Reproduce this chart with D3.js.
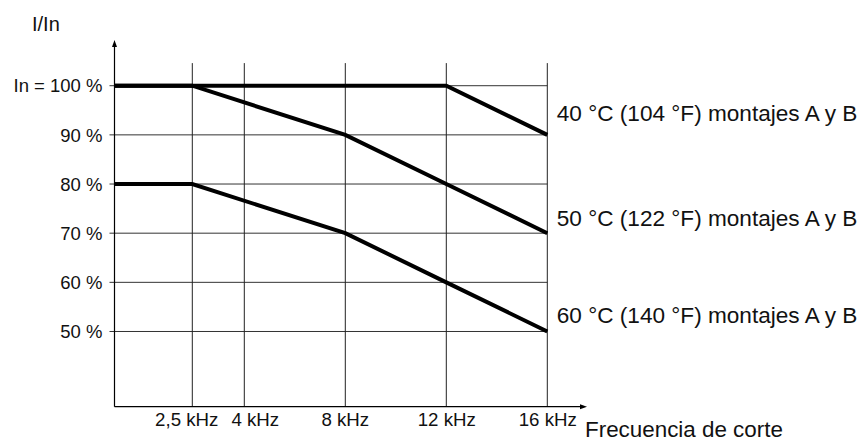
<!DOCTYPE html>
<html>
<head>
<meta charset="utf-8">
<script src="https://cdn.jsdelivr.net/npm/d3@7"></script>
<style>
  html, body { margin: 0; padding: 0; background: #fff; }
  svg { display: block; font-family: "Liberation Sans", Arial, sans-serif; }
</style>
</head>
<body>
<div id="chart"></div>
<script>
// Switching frequency ticks (kHz) and their labels
const freqTicks = [2.5, 4, 8, 12, 16];
const freqLabels = ['2,5 kHz', '4 kHz', '8 kHz', '12 kHz', '16 kHz'];

// Current ratio ticks (%)
const pctTicks = [100, 90, 80, 70, 60, 50];
const pctLabels = ['In = 100 %', '90 %', '80 %', '70 %', '60 %', '50 %'];

// Derating curves: breakpoints (kHz) and I/In (%)
const curve40Freq = [0, 12, 16];
const curve40Val = [100, 100, 90];
const curve50Freq = [0, 2.5, 8, 12, 16];
const curve50Val = [100, 100, 90, 80, 70];
const curve60Freq = [0, 2.5, 8, 12, 16];
const curve60Val = [80, 80, 70, 60, 50];

const curveNames = [
  '40 °C (104 °F) montajes A y B',
  '50 °C (122 °F) montajes A y B',
  '60 °C (140 °F) montajes A y B'
];
// level (%) where each name sits, next to the 16 kHz end
const curveLabelLevel = [92.9, 71.5, 51.8];

const width = 861, height = 442;

const svg = d3.select('#chart').append('svg')
  .attr('width', width)
  .attr('height', height);

// the frequency axis is not to scale in the original, so piecewise
const x = d3.scaleLinear()
  .domain([0, 2.5, 4, 16])
  .range([114.5, 192.3, 244.3, 547.3]);

const y = d3.scaleLinear()
  .domain([34.7, 109.3])
  .range([406.7, 40]);

const gridTop = 104.6;
const xEnd = 587;

// horizontal grid
svg.append('g')
  .selectAll('line')
  .data(pctTicks)
  .join('line')
  .attr('x1', x(0) - 5)
  .attr('x2', x(16))
  .attr('y1', d => y(d))
  .attr('y2', d => y(d))
  .attr('stroke', '#333')
  .attr('stroke-width', 1);

// vertical grid
svg.append('g')
  .selectAll('line')
  .data(freqTicks)
  .join('line')
  .attr('x1', d => x(d))
  .attr('x2', d => x(d))
  .attr('y1', y(y.domain()[0]))
  .attr('y2', y(gridTop))
  .attr('stroke', '#222')
  .attr('stroke-width', 1);

// axes with arrow heads
const x0 = x(0), y0 = y(y.domain()[0]), yTop = y(y.domain()[1]);
svg.append('line')
  .attr('x1', x0).attr('x2', x0)
  .attr('y1', y0).attr('y2', yTop + 4)
  .attr('stroke', '#000').attr('stroke-width', 1.2);
svg.append('path')
  .attr('d', `M${x0},${yTop} L${x0 - 2.5},${yTop + 7} L${x0 + 2.5},${yTop + 7} Z`)
  .attr('fill', '#000');
svg.append('line')
  .attr('x1', x0).attr('x2', xEnd - 4)
  .attr('y1', y0).attr('y2', y0)
  .attr('stroke', '#000').attr('stroke-width', 1.2);
svg.append('path')
  .attr('d', `M${xEnd},${y0} L${xEnd - 7},${y0 - 2.5} L${xEnd - 7},${y0 + 2.5} Z`)
  .attr('fill', '#000');

// y tick labels
svg.append('g')
  .selectAll('text')
  .data(pctTicks)
  .join('text')
  .attr('x', x0 - 12)
  .attr('y', d => y(d))
  .attr('dy', '0.36em')
  .attr('text-anchor', 'end')
  .attr('font-size', 18.5)
  .attr('fill', '#111')
  .text((d, i) => pctLabels[i]);

// x tick labels (first two nudged apart like the original)
const labelNudge = [-5.5, 11, 0, 0.5, 0.5];
svg.append('g')
  .selectAll('text')
  .data(freqTicks)
  .join('text')
  .attr('x', (d, i) => x(d) + labelNudge[i])
  .attr('y', 426)
  .attr('text-anchor', 'middle')
  .attr('font-size', 18.7)
  .attr('fill', '#111')
  .text((d, i) => freqLabels[i]);

// axis titles
svg.append('text')
  .attr('x', 32).attr('y', 30.5)
  .attr('font-size', 20)
  .attr('fill', '#111')
  .text('I/In');
svg.append('text')
  .attr('x', 585).attr('y', 437)
  .attr('font-size', 22.4)
  .attr('fill', '#111')
  .text('Frecuencia de corte');

// derating curves
const line = d3.line()
  .x(d => x(d[0]))
  .y(d => y(d[1]));

const curves = [
  d3.zip(curve40Freq, curve40Val),
  d3.zip(curve50Freq, curve50Val),
  d3.zip(curve60Freq, curve60Val)
];

svg.append('g')
  .selectAll('path')
  .data(curves)
  .join('path')
  .attr('d', line)
  .attr('fill', 'none')
  .attr('stroke', '#000')
  .attr('stroke-width', 4)
  .attr('stroke-linejoin', 'miter');

svg.append('g')
  .selectAll('text')
  .data(curveNames)
  .join('text')
  .attr('x', x(16) + 9.5)
  .attr('y', (d, i) => y(curveLabelLevel[i]))
  .attr('font-size', 22.6)
  .attr('fill', '#111')
  .text(d => d);
</script>
</body>
</html>
